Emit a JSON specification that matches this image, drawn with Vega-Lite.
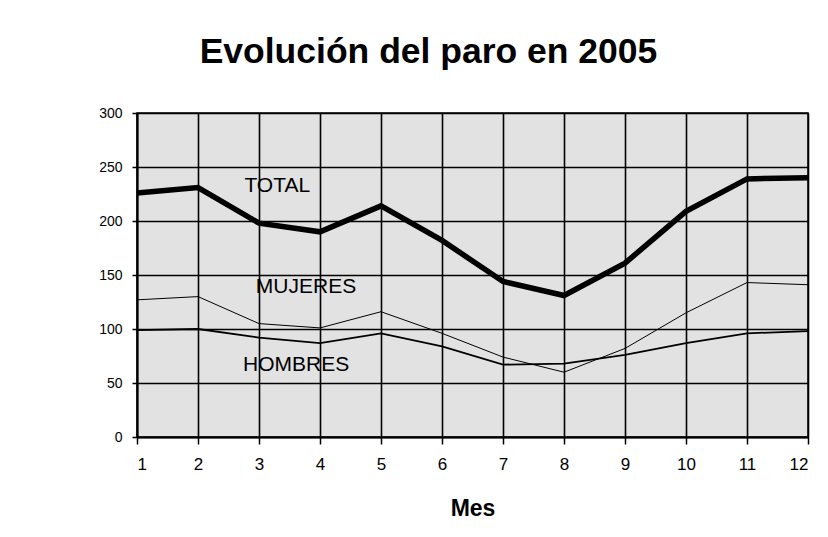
{
  "$schema": "https://vega.github.io/schema/vega-lite/v6.json",
  "width": 671,
  "height": 324,
  "autosize": {"type": "none"},
  "padding": {"left": 137, "top": 113, "right": 20, "bottom": 100},
  "background": "white",
  "title": {
    "text": "Evolución del paro en 2005",
    "font": "Liberation Sans",
    "fontSize": 35.5,
    "fontWeight": "bold",
    "color": "black",
    "anchor": "middle",
    "baseline": "alphabetic",
    "dx": -44,
    "offset": 8
  },
  "config": {
    "view": {"fill": "#e2e2e2", "stroke": "black", "strokeWidth": 1.5},
    "axis": {
      "labelFont": "Liberation Sans",
      "labelColor": "black",
      "gridColor": "black",
      "gridOpacity": 1,
      "gridWidth": 1.6,
      "domainColor": "black",
      "domainWidth": 2,
      "tickColor": "black",
      "tickWidth": 1.5
    }
  },
  "datasets": {
    "series": [
      {"mes": 1, "serie": "TOTAL", "valor": 226},
      {"mes": 2, "serie": "TOTAL", "valor": 231},
      {"mes": 3, "serie": "TOTAL", "valor": 198},
      {"mes": 4, "serie": "TOTAL", "valor": 190},
      {"mes": 5, "serie": "TOTAL", "valor": 214},
      {"mes": 6, "serie": "TOTAL", "valor": 182},
      {"mes": 7, "serie": "TOTAL", "valor": 144},
      {"mes": 8, "serie": "TOTAL", "valor": 131},
      {"mes": 9, "serie": "TOTAL", "valor": 161},
      {"mes": 10, "serie": "TOTAL", "valor": 209},
      {"mes": 11, "serie": "TOTAL", "valor": 239},
      {"mes": 12, "serie": "TOTAL", "valor": 240},
      {"mes": 1, "serie": "MUJERES", "valor": 127},
      {"mes": 2, "serie": "MUJERES", "valor": 130},
      {"mes": 3, "serie": "MUJERES", "valor": 105},
      {"mes": 4, "serie": "MUJERES", "valor": 101},
      {"mes": 5, "serie": "MUJERES", "valor": 116},
      {"mes": 6, "serie": "MUJERES", "valor": 96},
      {"mes": 7, "serie": "MUJERES", "valor": 74},
      {"mes": 8, "serie": "MUJERES", "valor": 60},
      {"mes": 9, "serie": "MUJERES", "valor": 82},
      {"mes": 10, "serie": "MUJERES", "valor": 115},
      {"mes": 11, "serie": "MUJERES", "valor": 143},
      {"mes": 12, "serie": "MUJERES", "valor": 141},
      {"mes": 1, "serie": "HOMBRES", "valor": 99},
      {"mes": 2, "serie": "HOMBRES", "valor": 100},
      {"mes": 3, "serie": "HOMBRES", "valor": 92},
      {"mes": 4, "serie": "HOMBRES", "valor": 87},
      {"mes": 5, "serie": "HOMBRES", "valor": 96},
      {"mes": 6, "serie": "HOMBRES", "valor": 84},
      {"mes": 7, "serie": "HOMBRES", "valor": 67},
      {"mes": 8, "serie": "HOMBRES", "valor": 68},
      {"mes": 9, "serie": "HOMBRES", "valor": 76},
      {"mes": 10, "serie": "HOMBRES", "valor": 87},
      {"mes": 11, "serie": "HOMBRES", "valor": 96},
      {"mes": 12, "serie": "HOMBRES", "valor": 98}
    ],
    "etiquetas": [
      {"mes": 3.3, "valor": 232, "texto": "TOTAL"},
      {"mes": 3.77, "valor": 139, "texto": "MUJERES"},
      {"mes": 3.61, "valor": 66.5, "texto": "HOMBRES"}
    ]
  },
  "layer": [
    {
      "data": {"name": "series"},
      "mark": {"type": "line", "color": "black", "strokeJoin": "miter"},
      "encoding": {
        "x": {
          "field": "mes",
          "type": "quantitative",
          "scale": {"domain": [1, 12], "nice": false, "zero": false},
          "axis": {
            "values": [1, 2, 3, 4, 5, 6, 7, 8, 9, 10, 11, 12],
            "format": "d",
            "labelFontSize": 17,
            "tickSize": 7,
            "labelPadding": 12,
            "title": "Mes",
            "titleFont": "Liberation Sans",
            "titleFontSize": 23,
            "titleFontWeight": "bold",
            "titleColor": "black",
            "titlePadding": 25
          }
        },
        "y": {
          "field": "valor",
          "type": "quantitative",
          "scale": {"domain": [0, 300], "nice": false},
          "axis": {
            "values": [0, 50, 100, 150, 200, 250, 300],
            "title": null,
            "labelFontSize": 14,
            "tickSize": 5,
            "labelPadding": 10
          }
        },
        "detail": {"field": "serie"},
        "strokeWidth": {
          "field": "serie",
          "type": "nominal",
          "scale": {"type": "ordinal", "domain": ["TOTAL", "MUJERES", "HOMBRES"], "range": [5.5, 1, 1.8]},
          "legend": null
        }
      }
    },
    {
      "data": {"name": "etiquetas"},
      "mark": {"type": "text", "font": "Liberation Sans", "fontSize": 21, "color": "black", "align": "center", "baseline": "middle"},
      "encoding": {
        "x": {"field": "mes", "type": "quantitative"},
        "y": {"field": "valor", "type": "quantitative"},
        "text": {"field": "texto"}
      }
    }
  ]
}
